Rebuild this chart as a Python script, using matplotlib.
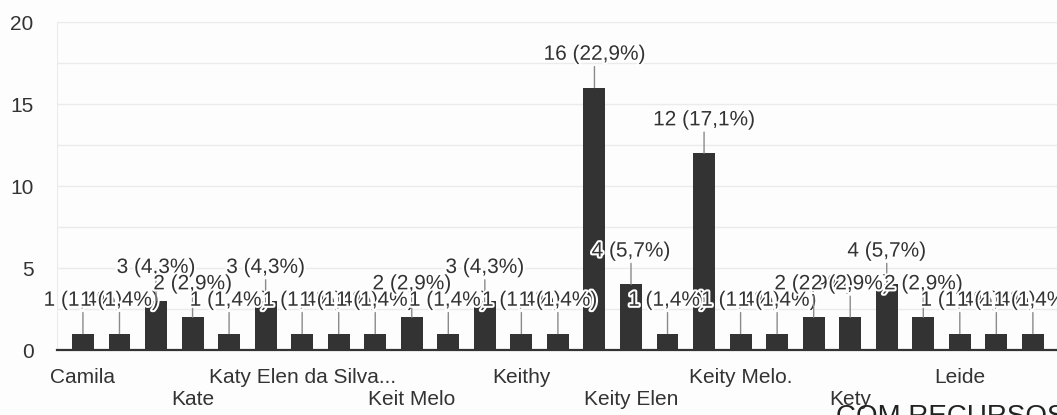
import matplotlib
matplotlib.use("Agg")
import matplotlib.pyplot as plt
import matplotlib.patheffects as pe
from matplotlib.ticker import MultipleLocator

plt.rcParams['font.family'] = ['Liberation Sans', 'DejaVu Sans']

# responses per name (27 bars)
counts = [1, 1, 3, 2, 1, 3, 1, 1, 1, 2, 1, 3, 1, 1, 16, 4, 1, 12,
          1, 1, 2, 2, 4, 2, 1, 1, 1]
# only every third bar has a visible name on the axis
shown_names = ['Camila', 'Kate', 'Katy Elen da Silva...', 'Keit Melo', 'Keithy',
               'Keity Elen', 'Keity Melo.', 'Kety', 'Leide']
label_every = 3
y_ticks = [0, 5, 10, 15, 20]

total = sum(counts)
bar_color = '#333333'
text_color = '#333333'

fig = plt.figure(figsize=(10.57, 4.15), dpi=100)
fig.patch.set_facecolor('#fdfdfd')
ax = fig.add_axes([57 / 1057, 65 / 415, 1000 / 1057, 328 / 415])
ax.set_facecolor('#fdfdfd')

x = list(range(len(counts)))
ax.bar(x, counts, width=0.6, color=bar_color, zorder=2)

# value labels with a white halo and a grey leader line, like Google Forms
halo = [pe.withStroke(linewidth=3, foreground='white')]
for xi, v in zip(x, counts):
    txt = f"{v} ({100 * v / total:.1f}%)".replace('.', ',')
    ax.annotate(txt, xy=(xi, v), xytext=(0, 24), textcoords='offset points',
                ha='center', va='center', fontsize=15, color=text_color,
                path_effects=halo, zorder=4,
                arrowprops=dict(arrowstyle='-', color='#8a8a8a', lw=1,
                                shrinkA=0, shrinkB=0))

ax.set_xlim(-0.71, 26.66)
ax.set_ylim(0, 20)
ax.set_yticks(y_ticks)
ax.yaxis.set_minor_locator(MultipleLocator(2.5))
ax.grid(axis='y', which='both', color='#ebebeb', lw=1, zorder=0)
ax.tick_params(axis='y', which='both', length=0, pad=17, labelsize=15,
               labelcolor=text_color)

# names alternate between two rows
tick_pos = x[::label_every]
tick_lbl = [n if i % 2 == 0 else '\n' + n for i, n in enumerate(shown_names)]
ax.set_xticks(tick_pos)
ax.set_xticklabels(tick_lbl)
ax.tick_params(axis='x', length=0, pad=13, labelsize=15, labelcolor=text_color)

for s in ['top', 'right']:
    ax.spines[s].set_visible(False)
ax.spines['left'].set_color('#ebebeb')
ax.spines['bottom'].set_color(bar_color)
ax.spines['bottom'].set_linewidth(1.6)
ax.spines['bottom'].set_zorder(3)

# text of the scanned page below the chart, cut by the edge
fig.text(836 / 1057, -9 / 415, 'COM RECURSOS', fontsize=20, color='#222222',
         ha='left', va='baseline')

fig.savefig('out.png', dpi=100, facecolor=fig.get_facecolor())
